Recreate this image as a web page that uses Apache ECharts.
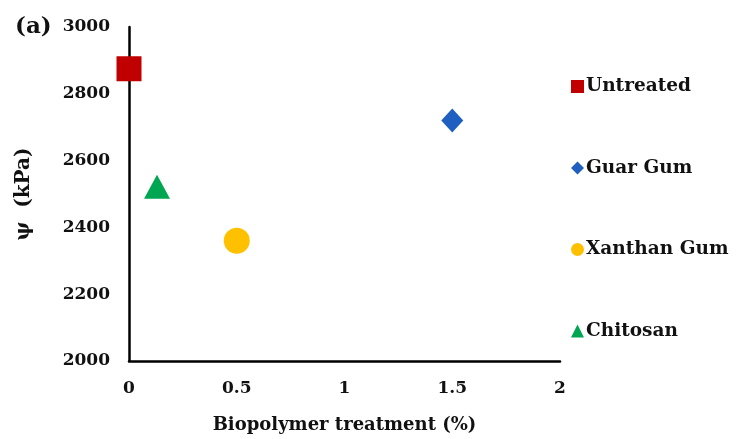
<!DOCTYPE html>
<html><head><meta charset="utf-8">
<script src="https://cdn.jsdelivr.net/npm/echarts@6/dist/echarts.min.js"></script>
<style>html,body{margin:0;padding:0;background:#fff}#c{width:737px;height:439px}</style>
</head><body><div id="c"></div>
<script>
const seriesNames = ['Untreated', 'Guar Gum', 'Xanthan Gum', 'Chitosan'];
const xValues = [0, 1.5, 0.5, 0.13];
const yValues = [2875, 2720, 2360, 2522];
const xTicks = [0, 0.5, 1, 1.5, 2];
const yTicks = [2000, 2200, 2400, 2600, 2800, 3000];

const colors = ['#C00000', '#1F5FBF', '#FFC000', '#00A651'];
const symbols = ['rect', 'diamond', 'circle', 'triangle'];
const sizes = [[25, 25], [22, 24], [26, 26], [26, 24]];
const F = '"DejaVu Serif", "Liberation Serif", serif';

const chart = echarts.init(document.getElementById('c'));
chart.setOption({
  animation: false,
  backgroundColor: '#fff',
  title: { text: '(a)', left: 10, top: 11, textStyle: { fontFamily: F, fontWeight: 'bold', fontSize: 23, color: '#111' } },
  grid: { left: 129, right: 177, top: 27, bottom: 78 },
  legend: {
    orient: 'vertical', left: 566, top: 72, itemGap: 62.5, itemWidth: 13, itemHeight: 13,
    data: seriesNames.map((n, i) => ({ name: n, icon: symbols[i] })),
    textStyle: { fontFamily: F, fontWeight: 'bold', fontSize: 18.5, color: '#111', padding: [0, 0, 0, -3] }
  },
  xAxis: {
    type: 'value', min: 0, max: 2, interval: 0.5,
    name: 'Biopolymer treatment (%)', nameLocation: 'middle', nameGap: 55,
    nameTextStyle: { fontFamily: F, fontWeight: 'bold', fontSize: 18, color: '#111' },
    axisLine: { show: true, lineStyle: { color: '#000', width: 2.5 } },
    axisTick: { show: false }, splitLine: { show: false },
    axisLabel: { fontFamily: F, fontWeight: 'bold', fontSize: 17, color: '#111', margin: 19,
      formatter: v => xTicks.includes(v) ? String(v) : '' }
  },
  yAxis: {
    type: 'value', min: 2000, max: 3000, interval: 200,
    name: 'ψ  (kPa)', nameLocation: 'middle', nameGap: 95, nameRotate: 90,
    nameTextStyle: { fontFamily: F, fontWeight: 'bold', fontSize: 20, color: '#111' },
    axisLine: { show: true, lineStyle: { color: '#000', width: 2.5 } },
    axisTick: { show: false }, splitLine: { show: false },
    axisLabel: { fontFamily: F, fontWeight: 'bold', fontSize: 17, color: '#111', margin: 19,
      formatter: v => yTicks.includes(v) ? String(v) : '' }
  },
  series: seriesNames.map((n, i) => ({
    name: n, type: 'scatter', symbol: symbols[i], symbolSize: sizes[i],
    itemStyle: { color: colors[i], opacity: 1 },
    data: [[xValues[i], yValues[i]]]
  }))
});
</script></body></html>
